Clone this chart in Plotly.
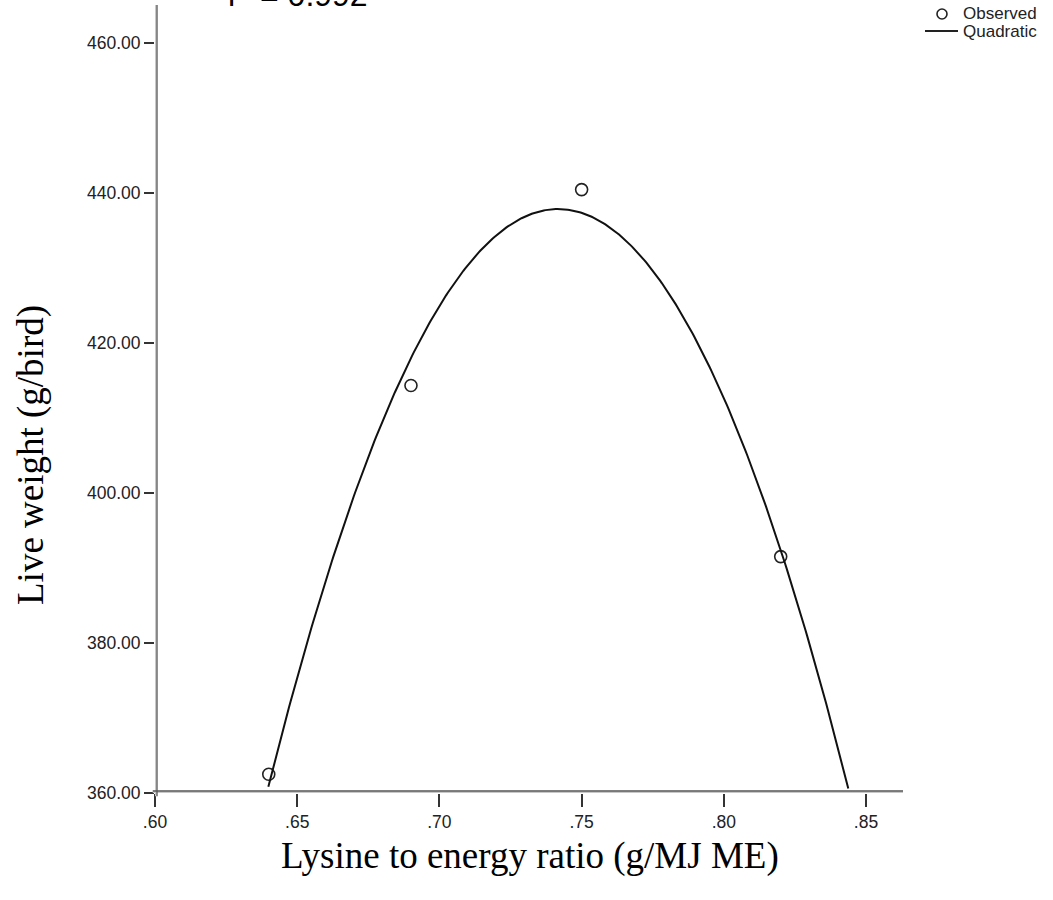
import numpy as np
import plotly.graph_objects as go

# Observed live weight at each lysine:energy ratio
lysine_ratio = [0.64, 0.69, 0.75, 0.82]
live_weight = [362.5, 414.3, 440.4, 391.5]

# Axis ticks
x_tickvals = [0.60, 0.65, 0.70, 0.75, 0.80, 0.85]
x_ticktext = [".60", ".65", ".70", ".75", ".80", ".85"]
y_tickvals = [360, 380, 400, 420, 440, 460]
y_ticktext = ["360.00", "380.00", "400.00", "420.00", "440.00", "460.00"]

r2_label = "r<sup>2</sup> = 0.992"
legend_labels = ["Observed", "Quadratic"]

X_RANGE = [0.60, 0.863]
Y_RANGE = [360, 465]

# Plot area in pixels (used to place the hand-built legend in paper units)
W, H = 1053, 900
ML, MR, MT, MB = 155, 150, 5, 107
PW, PH = W - ML - MR, H - MT - MB


def px(xp):
    return (xp - ML) / PW


def py(yp):
    return (H - MB - yp) / PH


# Quadratic regression of live weight on the ratio
coef = np.polyfit(lysine_ratio, live_weight, 2)
xs = np.linspace(0.62, 0.86, 400)
ys = np.polyval(coef, xs)
keep = ys >= Y_RANGE[0]
xs, ys = xs[keep], ys[keep]

fig = go.Figure()
fig.add_trace(go.Scatter(
    x=lysine_ratio, y=live_weight, mode="markers", name=legend_labels[0],
    marker=dict(symbol="circle-open", size=12, color="#222",
                line=dict(width=1.6, color="#222")),
    cliponaxis=False, showlegend=False,
))
fig.add_trace(go.Scatter(
    x=xs, y=ys, mode="lines", name=legend_labels[1],
    line=dict(color="#111", width=2), showlegend=False,
))

axis_font = dict(family="Liberation Sans, Arial", size=17.5, color="#222")
title_font = dict(family="Liberation Serif, Times New Roman", size=37, color="#000")
legend_font = dict(family="Liberation Sans, Arial", size=17, color="#222")

fig.update_xaxes(
    range=X_RANGE, tickvals=x_tickvals, ticktext=x_ticktext,
    ticks="outside", ticklen=13, tickwidth=2, tickcolor="#333",
    showgrid=False, zeroline=False, showline=False,
    tickfont=axis_font,
)
fig.update_yaxes(
    range=Y_RANGE, tickvals=y_tickvals, ticktext=y_ticktext,
    ticks="outside", ticklen=10, tickwidth=2, tickcolor="#333",
    showgrid=False, zeroline=False, showline=False,
    tickfont=axis_font,
)

# Double-rule axis lines
shapes = []
shapes.append(dict(type="line", xref="x", xsizemode="pixel", xanchor=X_RANGE[0],
                   x0=0, x1=0, yref="paper", y0=-0.004, y1=1,
                   line=dict(color="#c8c8c8", width=3)))
shapes.append(dict(type="line", xref="paper", x0=-0.003, x1=1,
                   yref="y", ysizemode="pixel", yanchor=Y_RANGE[0],
                   y0=0, y1=0, line=dict(color="#c8c8c8", width=3)))
for off in (-2, 2):
    shapes.append(dict(type="line", xref="x", xsizemode="pixel", xanchor=X_RANGE[0],
                       x0=off, x1=off, yref="paper", y0=-0.004, y1=1,
                       line=dict(color="#555", width=1.3)))
    shapes.append(dict(type="line", xref="paper", x0=-0.003, x1=1,
                       yref="y", ysizemode="pixel", yanchor=Y_RANGE[0],
                       y0=off, y1=off, line=dict(color="#555", width=1.3)))

# Legend symbols: open circle and short rule
shapes.append(dict(type="circle", xref="paper", yref="paper",
                   xsizemode="pixel", ysizemode="pixel",
                   xanchor=px(942), yanchor=py(14),
                   x0=-5, x1=5, y0=-5, y1=5,
                   line=dict(color="#222", width=1.6)))
shapes.append(dict(type="line", xref="paper", yref="paper",
                   x0=px(925), x1=px(958), y0=py(31), y1=py(31),
                   line=dict(color="#222", width=2)))

annotations = [
    dict(text="Lysine to energy ratio (g/MJ ME)", xref="paper", yref="paper",
         x=px(530), y=py(856), xanchor="center", yanchor="middle", showarrow=False,
         font=title_font),
    dict(text="Live weight (g/bird)", xref="paper", yref="paper",
         x=px(31), y=py(455), xanchor="center", yanchor="middle", textangle=-90,
         showarrow=False, font=title_font),
    dict(text=r2_label, xref="paper", yref="paper", x=px(226), y=1,
         xanchor="left", yanchor="bottom", yshift=-10, showarrow=False,
         font=dict(family="Liberation Sans, Arial", size=32, color="#000")),
    dict(text=legend_labels[0], xref="paper", yref="paper", x=px(962), y=py(14),
         xanchor="left", yanchor="middle", showarrow=False, font=legend_font,
         borderpad=0),
    dict(text=legend_labels[1], xref="paper", yref="paper", x=px(962), y=py(32),
         xanchor="left", yanchor="middle", showarrow=False, font=legend_font,
         borderpad=0),
]

fig.update_layout(
    width=W, height=H,
    margin=dict(l=ML, r=MR, t=MT, b=MB),
    plot_bgcolor="white", paper_bgcolor="white",
    shapes=shapes, annotations=annotations,
    showlegend=False,
)

fig.write_html("out.html")
